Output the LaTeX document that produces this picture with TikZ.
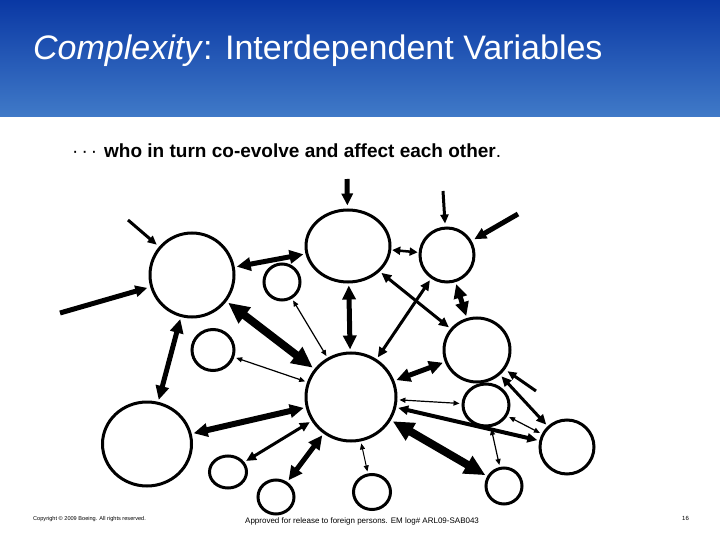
\documentclass[tikz,border=0pt]{standalone}
\usepackage{fontspec}
\setmainfont{Liberation Sans}
\usetikzlibrary{shapes.geometric,arrows.meta}
\definecolor{hdrtop}{RGB}{10,56,164}
\definecolor{hdrbot}{RGB}{64,122,200}
\tikzset{
  ball/.style={ellipse, draw, line width=3pt, inner sep=0pt},
  conA/.style={line width=1.2pt, {Triangle[length=6pt,width=5pt]}-{Triangle[length=6pt,width=5pt]}, shorten >=2pt, shorten <=2pt},
  conS/.style={line width=2.5pt, {Triangle[length=8pt,width=8pt]}-{Triangle[length=8pt,width=8pt]}, shorten >=1pt, shorten <=1pt},
  conB/.style={line width=3pt, {Triangle[length=10pt,width=9pt]}-{Triangle[length=10pt,width=9pt]}, shorten >=2pt, shorten <=2pt},
  conC/.style={line width=5pt, {Triangle[length=14pt,width=13pt]}-{Triangle[length=14pt,width=13pt]}, shorten >=2pt, shorten <=2pt},
  conD/.style={line width=8pt, {Triangle[length=21pt,width=19pt]}-{Triangle[length=21pt,width=19pt]}, shorten >=2pt, shorten <=2pt},
  inB/.style={line width=3pt, -{Triangle[length=9pt,width=8pt]}, shorten >=3pt},
  inC/.style={line width=5pt, -{Triangle[length=12pt,width=11pt]}, shorten >=3pt},
}
\begin{document}
\begin{tikzpicture}[x=1pt,y=-1pt]
\useasboundingbox (0,0) rectangle (720,540);
\fill[white] (0,0) rectangle (720,540);
\shade[top color=hdrtop, bottom color=hdrbot] (0,0) rectangle (720,117);
\node[anchor=base west, text=white, font=\fontsize{34}{38}\selectfont, inner sep=0pt] (title) at (33,60) {\textit{Complexity}: Interdependent Variables};
\node[anchor=base west, font=\fontsize{19}{22}\selectfont, inner sep=0pt] (sub) at (72,158) {·\hspace{3pt}·\hspace{3pt}·\hspace{7pt}\textbf{who in turn co-evolve and affect each other}.};

% circles
\node[ball, minimum width=84pt, minimum height=84pt] (A) at (192,275) {};
\node[ball, minimum width=84pt, minimum height=72pt] (B) at (348,246) {};
\node[ball, minimum width=36pt, minimum height=36pt] (C) at (282,282) {};
\node[ball, minimum width=42pt, minimum height=41pt] (D) at (213,350) {};
\node[ball, minimum width=90pt, minimum height=88pt] (E) at (351,397) {};
\node[ball, minimum width=89pt, minimum height=84pt] (F) at (147,444) {};
\node[ball, minimum width=54pt, minimum height=54pt] (G) at (447,255) {};
\node[ball, minimum width=66pt, minimum height=64pt] (H) at (477,350) {};
\node[ball, minimum width=37pt, minimum height=32pt] (I) at (228,472) {};
\node[ball, minimum width=36pt, minimum height=34pt] (J) at (276,497) {};
\node[ball, minimum width=37pt, minimum height=35pt] (K) at (372,492) {};
\node[ball, minimum width=46pt, minimum height=42pt] (L) at (486,405) {};
\node[ball, minimum width=54pt, minimum height=54pt] (M) at (567,447) {};
\node[ball, minimum width=36pt, minimum height=36pt] (N) at (504,486) {};

% free ends of incoming arrows
\coordinate (tA1) at (128,220);
\coordinate (tA2) at (60,313);
\coordinate (tB) at (347,179);
\coordinate (tG1) at (443,191);
\coordinate (tG2) at (518,214);
\coordinate (tH) at (536,391);

\draw[inB] (tA1) -- (A);
\draw[inC] (tA2) -- (A);
\draw[inC] (tB) -- (B);
\draw[inB] (tG1) -- (G);
\draw[inC] (tG2) -- (G);
\draw[inB] (tH) -- (H);

% interconnections
\draw[conC] (A) -- (B);
\draw[conD] (A) -- (E);
\draw[conC] (A) -- (F);
\draw[conA] (C) -- (E);
\draw[conA] (D) -- (E);
\draw[conC] (B) -- (E);
\draw[conS] (B) -- (G);
\draw[conB] (B) -- (H);
\draw[conB] (E) -- (G);
\draw[conC] (G) -- (H);
\draw[conC] (H) -- (E);
\draw[conB] (H) -- (M);
\draw[conA] (E) -- (L);
\draw[conA] (L) -- (M);
\draw[conB, line width=4pt] (E) -- (M);
\draw[conA] (L) -- (N);
\draw[conD] (E) -- (N);
\draw[conC, line width=6pt] (F) -- (E);
\draw[conB] (E) -- (I);
\draw[conC] (E) -- (J);
\draw[conA, line width=1pt] (E) -- (K);

% footer
\node[anchor=base west, font=\fontsize{5.6}{6}\selectfont, inner sep=0pt] (copy) at (33,520) {Copyright © 2009 Boeing. All rights reserved.};
\node[anchor=base west, font=\fontsize{8}{9}\selectfont, inner sep=0pt] (appr) at (245,523) {Approved for release to foreign persons. EM log\# ARL09-SAB043};
\node[anchor=base west, font=\fontsize{6}{7}\selectfont, inner sep=0pt] (pg) at (682,520) {16};
\end{tikzpicture}
\end{document}
